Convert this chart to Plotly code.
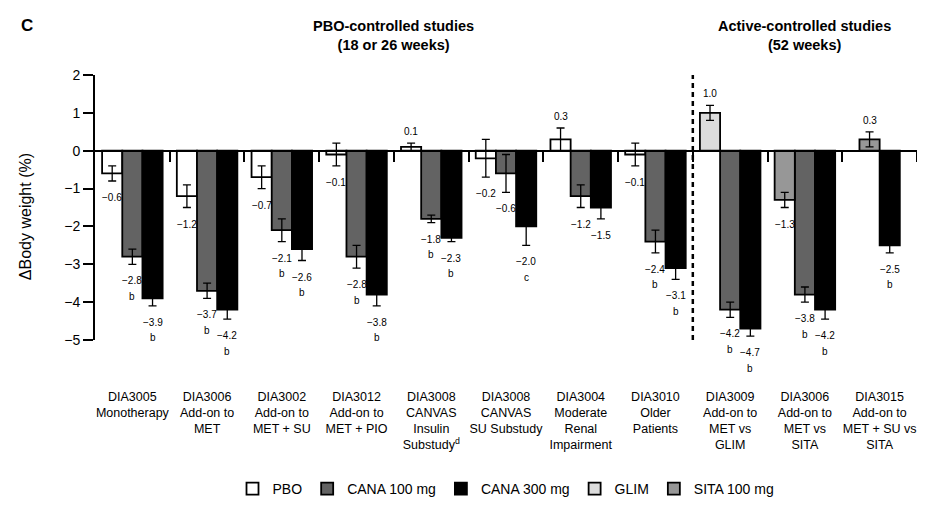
import plotly.graph_objects as go

# ---------------- data ----------------
groups = [
    "DIA3005<br>Monotherapy",
    "DIA3006<br>Add-on to<br>MET",
    "DIA3002<br>Add-on to<br>MET + SU",
    "DIA3012<br>Add-on to<br>MET + PIO",
    "DIA3008<br>CANVAS<br>Insulin<br>Substudy<sup>d</sup>",
    "DIA3008<br>CANVAS<br>SU Substudy",
    "DIA3004<br>Moderate<br>Renal<br>Impairment",
    "DIA3010<br>Older<br>Patients",
    "DIA3009<br>Add-on to<br>MET vs<br>GLIM",
    "DIA3006<br>Add-on to<br>MET vs<br>SITA",
    "DIA3015<br>Add-on to<br>MET + SU vs<br>SITA",
]
n_pbo_groups = 8

pbo = [-0.6, -1.2, -0.7, -0.1, 0.1, -0.2, 0.3, -0.1, None, None, None]
pbo_err = [0.2, 0.3, 0.3, 0.3, 0.1, 0.5, 0.3, 0.3, None, None, None]
pbo_sig = [""] * 11

cana100 = [-2.8, -3.7, -2.1, -2.8, -1.8, -0.6, -1.2, -2.4, -4.2, -3.8, None]
cana100_err = [0.2, 0.2, 0.3, 0.3, 0.1, 0.5, 0.3, 0.3, 0.2, 0.2, None]
cana100_sig = ["b", "b", "b", "b", "b", "", "", "b", "b", "b", ""]

cana300 = [-3.9, -4.2, -2.6, -3.8, -2.3, -2.0, -1.5, -3.1, -4.7, -4.2, -2.5]
cana300_err = [0.2, 0.25, 0.3, 0.3, 0.1, 0.5, 0.3, 0.3, 0.2, 0.25, 0.2]
cana300_sig = ["b", "b", "b", "b", "b", "c", "", "b", "b", "b", "b"]

glim = [None] * 8 + [1.0, None, None]
glim_err = [None] * 8 + [0.2, None, None]
glim_sig = [""] * 11

sita = [None] * 9 + [-1.3, 0.3]
sita_err = [None] * 9 + [0.2, 0.2]
sita_sig = [""] * 11

y_ticks = [-5, -4, -3, -2, -1, 0, 1, 2]

series = [
    dict(name="PBO", v=pbo, e=pbo_err, s=pbo_sig, color="#ffffff"),
    dict(name="CANA 100 mg", v=cana100, e=cana100_err, s=cana100_sig, color="#636363"),
    dict(name="CANA 300 mg", v=cana300, e=cana300_err, s=cana300_sig, color="#000000"),
    dict(name="GLIM", v=glim, e=glim_err, s=glim_sig, color="#dcdcdc"),
    dict(name="SITA 100 mg", v=sita, e=sita_err, s=sita_sig, color="#979797"),
]
slot_order = ["PBO", "GLIM", "SITA 100 mg", "CANA 100 mg", "CANA 300 mg"]

# ---------------- styling ----------------
FONT = "Liberation Sans, Arial, Helvetica, sans-serif"
BAR_W = 0.27
MINUS = "\u2212"
LBL = dict(size=10, family=FONT, color="black")
FIG_W, FIG_H = 909, 496   # page adds an 8px body margin on every side


def fmt(v):
    return f"{v:.1f}".replace("-", MINUS)


by_name = {s["name"]: s for s in series}

fig = go.Figure()
annotations = []

for s in series:
    xs, ys, es, offs = [], [], [], []
    for g in range(len(groups)):
        v = s["v"][g]
        if v is None:
            continue
        present = [n for n in slot_order if by_name[n]["v"][g] is not None]
        k = len(present)
        off = (present.index(s["name"]) - k / 2) * BAR_W
        xs.append(g)
        ys.append(v)
        es.append(s["e"][g])
        offs.append(off)
        xc = g + off + BAR_W / 2
        err = s["e"][g]
        if v < 0:
            annotations.append(dict(x=xc, y=v - err, xref="x", yref="y", text=fmt(v),
                                    showarrow=False, yanchor="top", yshift=-9, font=LBL))
            if s["s"][g]:
                annotations.append(dict(x=xc, y=v - err, xref="x", yref="y", text=s["s"][g],
                                        showarrow=False, yanchor="top", yshift=-24.5, font=LBL))
        else:
            annotations.append(dict(x=xc, y=v + err, xref="x", yref="y", text=fmt(v),
                                    showarrow=False, yanchor="bottom", yshift=4, font=LBL))
    fig.add_trace(go.Bar(
        x=xs, y=ys, name=s["name"], offset=offs, width=BAR_W,
        marker=dict(color=s["color"], line=dict(color="black", width=1.8)),
        error_y=dict(type="data", array=es, visible=True, color="black",
                     thickness=1.3, width=4),
        hoverinfo="skip",
    ))

# invisible trace to activate the zero-line axis
fig.add_trace(go.Scatter(x=[0], y=[0], xaxis="x2", mode="markers",
                         marker=dict(opacity=0), showlegend=False, hoverinfo="skip"))

n = len(groups)
boundaries = [i + 0.5 for i in range(n)]

# section titles
TFONT = dict(size=14.5, family=FONT, color="black")
annotations.append(dict(x=(n_pbo_groups - 1) / 2, y=1.149, xref="x", yref="paper",
                        text="<b>PBO-controlled studies<br>(18 or 26 weeks)</b>",
                        showarrow=False, xanchor="center", yanchor="middle", font=TFONT))
annotations.append(dict(x=(n_pbo_groups + n - 1) / 2, y=1.149, xref="x", yref="paper",
                        text="<b>Active-controlled studies<br>(52 weeks)</b>",
                        showarrow=False, xanchor="center", yanchor="middle", font=TFONT))
annotations.append(dict(x=-0.0824, y=1.185, xref="paper", yref="paper", text="<b>C</b>",
                        showarrow=False, xanchor="center", yanchor="middle",
                        font=dict(size=17, family=FONT, color="black")))
annotations.append(dict(x=-0.085, y=0.464, xref="paper", yref="paper",
                        text="\u0394Body weight (%)", textangle=-90, showarrow=False,
                        xanchor="center", yanchor="middle",
                        font=dict(size=16, family=FONT, color="black")))

fig.add_shape(type="line", xref="x", yref="y",
              x0=n_pbo_groups - 0.5, x1=n_pbo_groups - 0.5,
              y0=min(y_ticks), y1=max(y_ticks),
              line=dict(color="black", width=2.5, dash="5px,4px"))

fig.update_layout(
    width=FIG_W, height=FIG_H,
    margin=dict(l=87, r=0, t=67, b=164, autoexpand=False),
    paper_bgcolor="white", plot_bgcolor="white",
    barmode="overlay",
    font=dict(family=FONT, color="black", size=14),
    showlegend=True,
    legend=dict(orientation="h", x=0.5, xanchor="center", yref="container",
                y=1 - 481 / FIG_H, yanchor="middle",
                font=dict(size=14, family=FONT, color="black"),
                traceorder="normal", itemclick=False),
    xaxis=dict(range=[-0.5, n - 0.5], tickvals=list(range(n)), ticktext=groups,
               showline=False, ticks="", showgrid=False, zeroline=False, tickangle=0,
               automargin=False,
               ticklabelstandoff=47, tickfont=dict(size=12.5, family=FONT, color="black"),
               fixedrange=True),
    xaxis2=dict(overlaying="x", matches="x", anchor="free",
                position=(0 - min(y_ticks)) / (max(y_ticks) - min(y_ticks)),
                side="bottom", showline=True, linecolor="black", linewidth=2,
                ticks="outside", tickvals=boundaries, ticklen=10, tickwidth=2,
                automargin=False,
                tickcolor="black", showticklabels=False, showgrid=False, zeroline=False),
    yaxis=dict(range=[min(y_ticks), max(y_ticks)], tickvals=y_ticks,
               ticktext=[str(t).replace("-", MINUS) for t in y_ticks],
               showline=True, linecolor="black", linewidth=2, ticks="outside",
               ticklen=10, tickwidth=2, tickcolor="black", showgrid=False, zeroline=False,
               automargin=False,
               tickfont=dict(size=14, family=FONT, color="black"), fixedrange=True),
    annotations=annotations,
)

fig.write_html("out.html")
